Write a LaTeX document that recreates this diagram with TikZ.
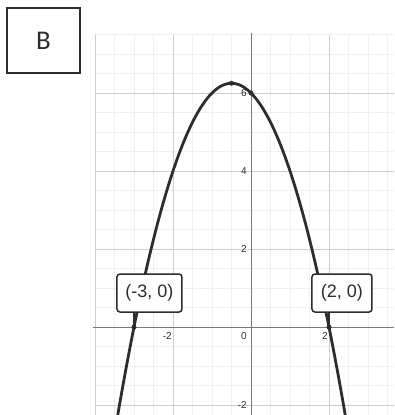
\documentclass[tikz,border=0pt]{standalone}
\usepackage{fontspec}
\setmainfont{Liberation Sans}
\newfontfamily\labfont{Carlito}
\usetikzlibrary{positioning}
\definecolor{ink}{RGB}{45,45,45}
\definecolor{gmaj}{RGB}{205,205,205}
\definecolor{gmin}{RGB}{240,240,240}
\definecolor{axisc}{RGB}{120,120,120}

\begin{document}
\begin{tikzpicture}[
  x=39pt, y=39pt, ink,
  every node/.style={inner sep=1pt},
  minor/.style={gmin, line width=0.5pt},
  major/.style={gmaj, line width=0.7pt},
  axisline/.style={axisc, line width=0.8pt},
  tick/.style={font=\fontsize{10}{10}\selectfont, ink},
  curve/.style={ink, line width=2.8pt},
  dot/.style={circle, fill=ink, inner sep=0pt, minimum size=5pt},
  ptlabel/.style={draw=ink, line width=1.5pt, rounded corners=3pt, fill=white,
                  minimum height=38pt, font=\fontsize{18}{18}\selectfont},
  tagbox/.style={draw=ink, line width=1.2pt, minimum width=73pt, minimum height=65pt,
                 font=\labfont\fontsize{27}{27}\selectfont},
]
\useasboundingbox (-6.436,-2.256) rectangle (3.667,8.385);

%% ---- panel tag ----
\node[tagbox] (tag) at (-5.32,7.346) {B};

%% ---- grid ----
\begin{scope}
  \clip (-4,-2.256) rectangle (3.667,7.5);
  \foreach \gx in {-4,-3.5,...,3.5} \draw[minor] (\gx,-2.3) -- (\gx,7.5);
  \foreach \gy in {-2,-1.5,...,7.5} \draw[minor] (-4,\gy) -- (3.7,\gy);
  \foreach \gx in {-4,-2,2} \draw[major] (\gx,-2.3) -- (\gx,7.5);
  \foreach \gy in {-2,2,4,6} \draw[major] (-4,\gy) -- (3.7,\gy);
\end{scope}

%% ---- axes ----
\draw[axisline] (-4.05,0) -- (3.667,0);
\draw[axisline] (0,7.55) -- (0,-2.256);

%% ---- tick labels ----
\node[tick, anchor=north east] (xm2) at (-2,-0.12) {-2};
\node[tick, anchor=north east] (x0) at (-0.08,-0.12) {0};
\node[tick, anchor=north east] (x2) at (2,-0.12) {2};
\node[tick, anchor=east] (y2) at (-0.08,2) {2};
\node[tick, anchor=east] (y4) at (-0.08,4) {4};
\node[tick, anchor=east] (y6) at (-0.08,6) {6};
\node[tick, anchor=east] (ym2) at (-0.08,-2) {-2};

%% ---- parabola ----
\begin{scope}
  \clip (-6.436,-2.256) rectangle (3.667,8.385);
  \draw[curve, domain=-3.45:2.45, samples=80, smooth]
    plot (\x,{-(\x)*(\x)-(\x)+6});
\end{scope}

%% ---- points ----
\node[dot] (r1) at (-3,0) {};
\node[dot] (r2) at (2,0) {};
\node[dot] (yint) at (0,6) {};
\node[dot] (vtx) at (-0.5,6.25) {};

%% ---- point labels ----
\node[ptlabel, minimum width=65pt] (lab1) at (-2.603,0.872) {(-3, 0)};
\node[ptlabel, minimum width=60pt] (lab2) at (2.333,0.872) {(2, 0)};
\draw[ink, line width=1.5pt] (lab1.south -| r1) -- (r1);
\draw[ink, line width=1.5pt] (lab2.south -| r2) -- (r2);

\end{tikzpicture}
\end{document}
